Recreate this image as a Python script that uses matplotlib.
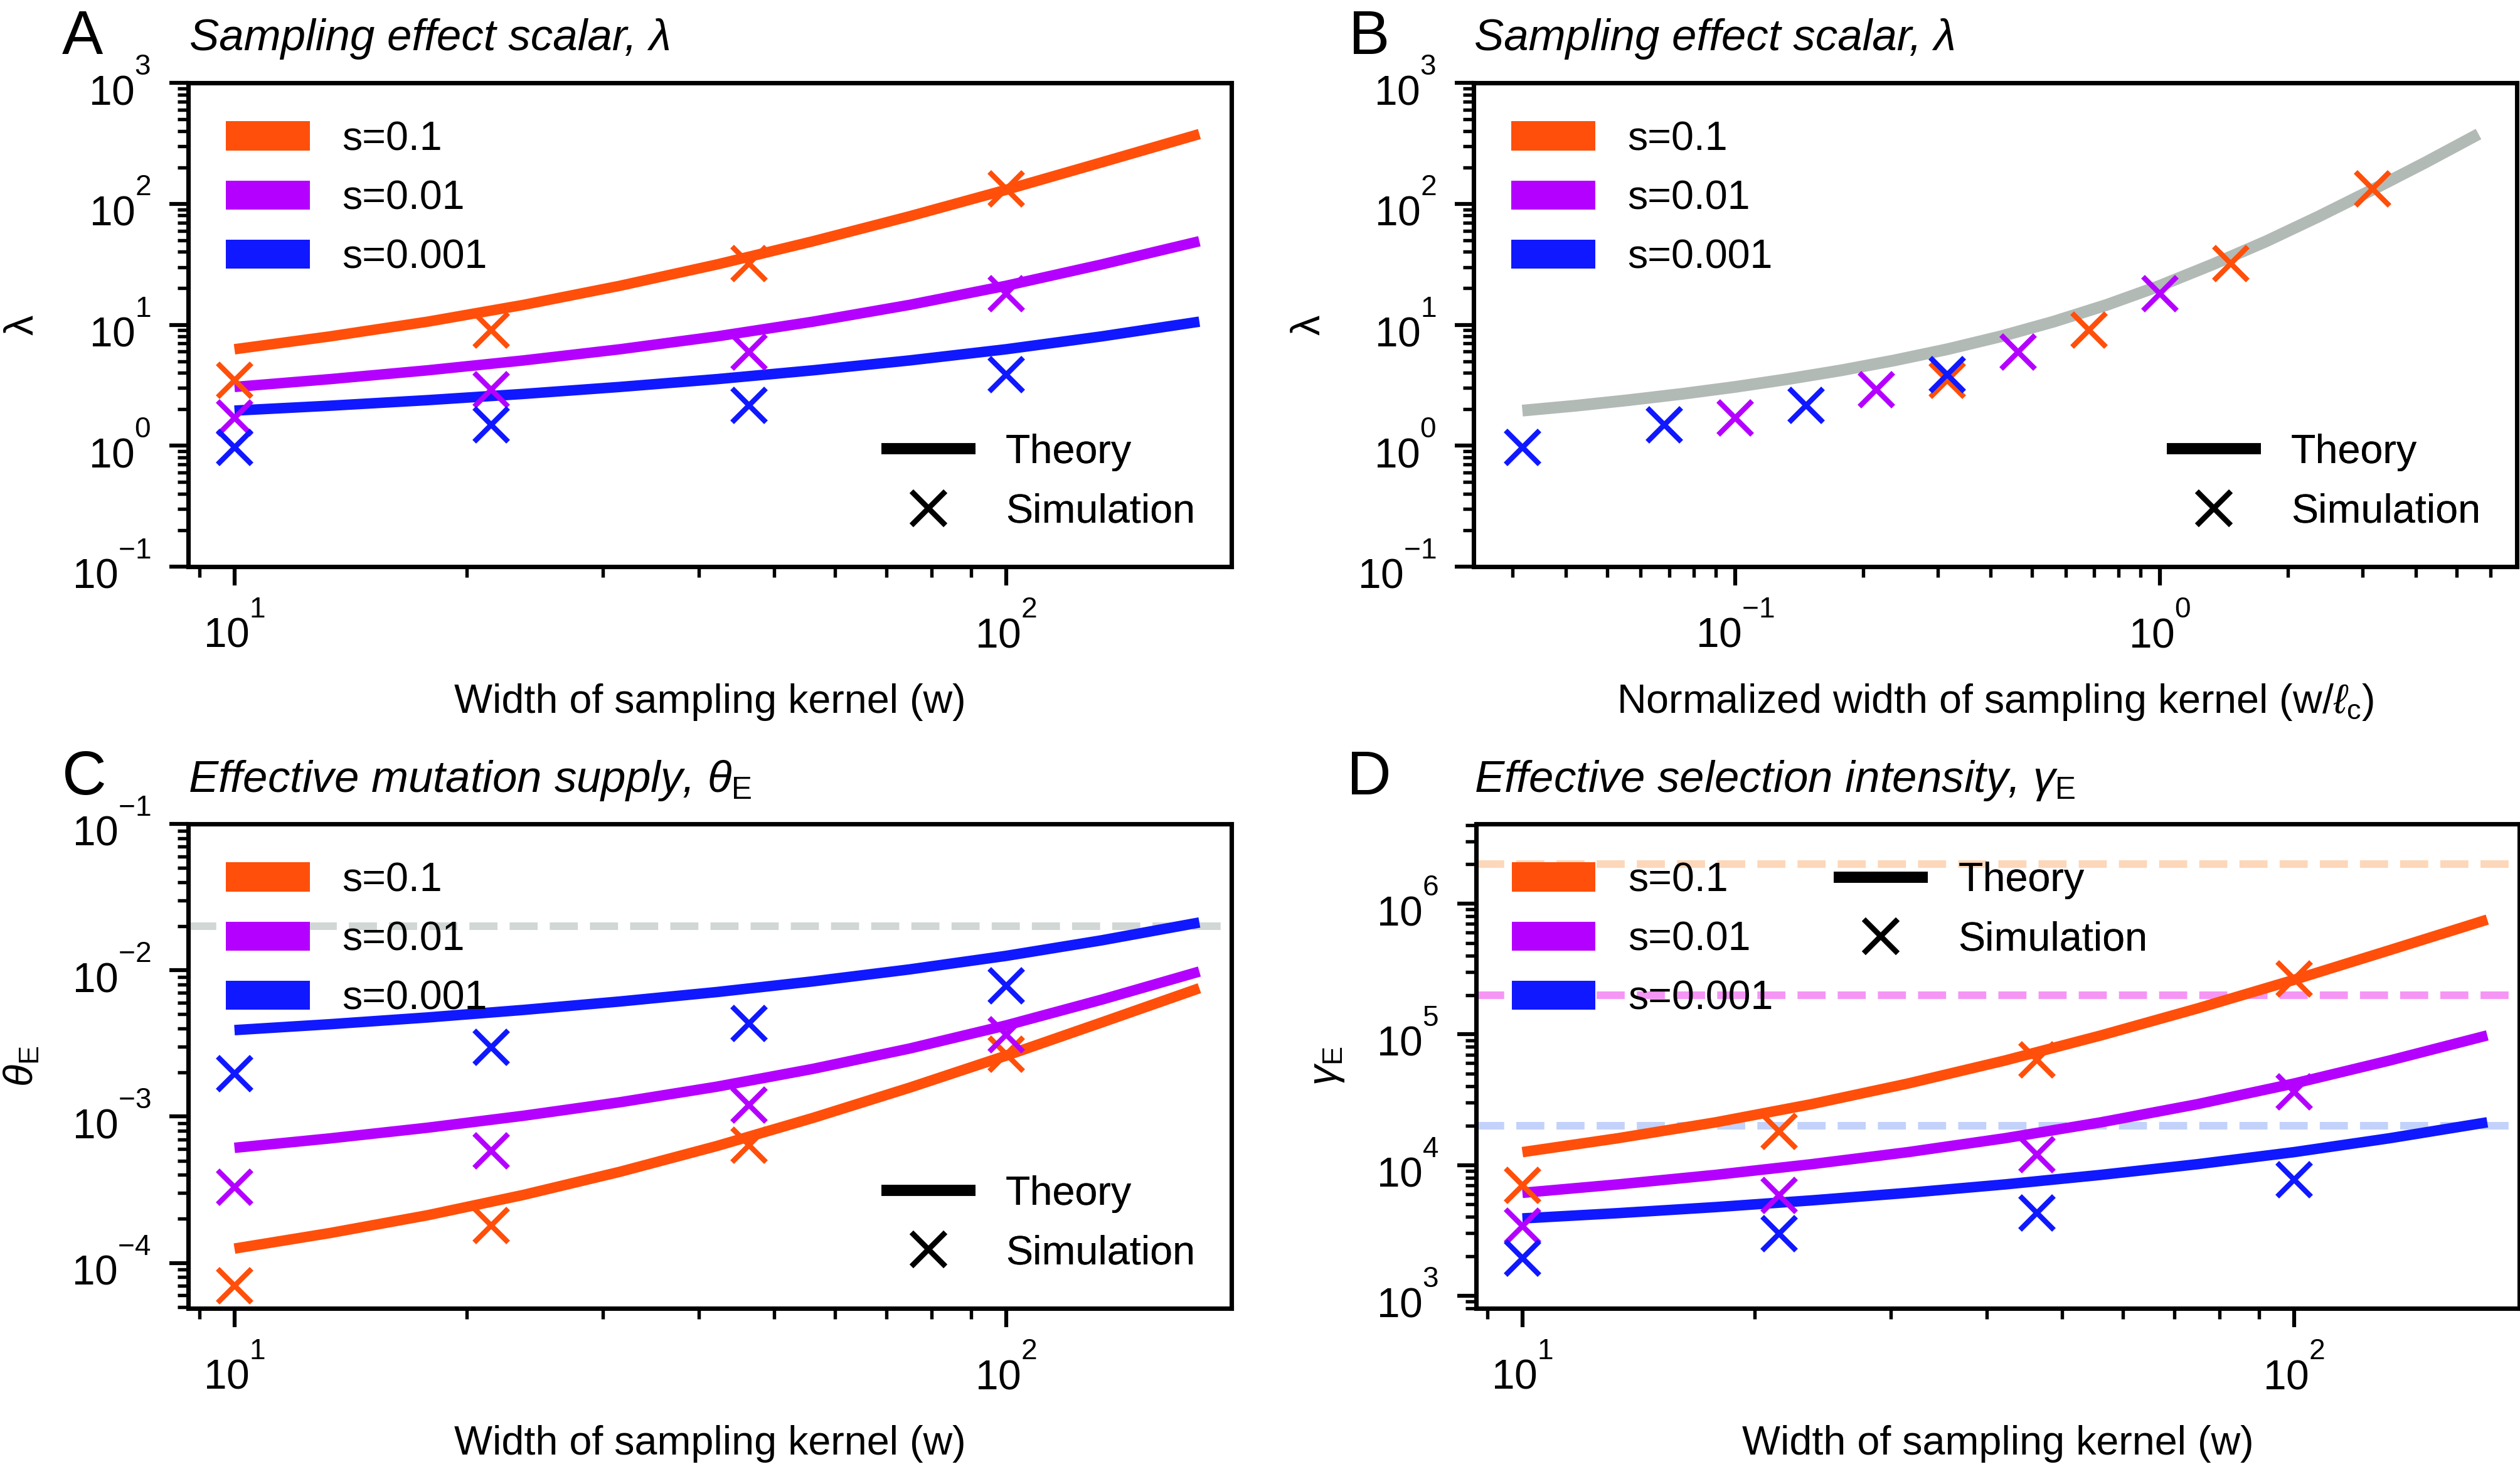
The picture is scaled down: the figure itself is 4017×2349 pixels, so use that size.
import matplotlib
matplotlib.use('Agg')
import matplotlib.pyplot as plt
from matplotlib.patches import Patch
from matplotlib.lines import Line2D
from matplotlib.ticker import NullFormatter

try:
    import matplotlib._mathtext as _mt
    _mt.FontConstantsBase.sup1 = 1.35   # raise superscripts (tick labels 10^n) like the reference
except Exception:
    pass

plt.rcParams['font.family'] = ['Liberation Sans', 'DejaVu Sans']
plt.rcParams['mathtext.fontset'] = 'custom'
plt.rcParams['mathtext.rm'] = 'Liberation Sans'
plt.rcParams['mathtext.it'] = 'Liberation Sans:italic'
plt.rcParams['mathtext.bf'] = 'Liberation Sans:bold'
plt.rcParams['mathtext.sf'] = 'Liberation Sans'

# ---------------- data ----------------
s_labels = ['s=0.1', 's=0.01', 's=0.001']
colors = ['#FF4F0A', '#B400FF', '#1018FF']

# theory curves, panel A (lambda vs w)
w_theory = [10, 13.3, 17.8, 23.7, 31.6, 42.2, 56.2, 75.0, 100, 133, 178]
lam_th_s1 = [6.27, 8.01, 10.6, 14.6, 21.0, 31.5, 49.0, 78.9, 130.5, 220, 377]
lam_th_s2 = [3.06, 3.55, 4.20, 5.07, 6.27, 8.01, 10.6, 14.6, 21.0, 31.5, 49.0]
lam_th_s3 = [1.95, 2.14, 2.38, 2.68, 3.06, 3.55, 4.20, 5.07, 6.27, 8.01, 10.6]

# simulations, panel A
w_sim = [10, 21.5, 46.4, 100]
lam_sim_s1 = [3.49, 9.06, 31.9, 133]
lam_sim_s2 = [1.70, 2.92, 5.98, 18.1]
lam_sim_s3 = [0.97, 1.49, 2.15, 3.86]

# panel B (normalized width)
xn_theory = [0.0316, 0.0422, 0.0562, 0.075, 0.1, 0.133, 0.178, 0.237, 0.316, 0.422,
             0.562, 0.75, 1.0, 1.33, 1.78, 2.37, 3.16, 4.22, 5.62]
lam_theory_B = [1.95, 2.14, 2.38, 2.68, 3.06, 3.55, 4.20, 5.07, 6.27, 8.01,
                10.6, 14.6, 21.0, 31.5, 49.0, 78.9, 130.5, 220, 377]
xn_sim_s1 = [0.316, 0.681, 1.468, 3.162]
xn_sim_s2 = [0.1, 0.215, 0.464, 1.0]
xn_sim_s3 = [0.0316, 0.0681, 0.1468, 0.3162]

# panel C (theta_E)
theta_th_s1 = [1.254e-4, 1.602e-4, 2.12e-4, 2.92e-4, 4.2e-4, 6.3e-4, 9.8e-4, 1.578e-3, 2.61e-3, 4.4e-3, 7.54e-3]
theta_th_s2 = [6.12e-4, 7.1e-4, 8.4e-4, 1.014e-3, 1.254e-3, 1.602e-3, 2.12e-3, 2.92e-3, 4.2e-3, 6.3e-3, 9.8e-3]
theta_th_s3 = [3.9e-3, 4.28e-3, 4.76e-3, 5.36e-3, 6.12e-3, 7.1e-3, 8.4e-3, 1.014e-2, 1.254e-2, 1.602e-2, 2.12e-2]
theta_sim_s1 = [7.0e-5, 1.81e-4, 6.4e-4, 2.66e-3]
theta_sim_s2 = [3.3e-4, 5.84e-4, 1.2e-3, 3.62e-3]
theta_sim_s3 = [1.96e-3, 2.99e-3, 4.35e-3, 7.8e-3]
theta_ref = 0.02

# panel D (gamma_E)
gam_th_s1 = [1.254e4, 1.602e4, 2.12e4, 2.92e4, 4.2e4, 6.3e4, 9.8e4, 1.578e5, 2.61e5, 4.4e5, 7.54e5]
gam_th_s2 = [6.12e3, 7.1e3, 8.4e3, 1.014e4, 1.254e4, 1.602e4, 2.12e4, 2.92e4, 4.2e4, 6.3e4, 9.8e4]
gam_th_s3 = [3.9e3, 4.28e3, 4.76e3, 5.36e3, 6.12e3, 7.1e3, 8.4e3, 1.014e4, 1.254e4, 1.602e4, 2.12e4]
gam_sim_s1 = [6.98e3, 1.81e4, 6.4e4, 2.66e5]
gam_sim_s2 = [3.4e3, 5.84e3, 1.2e4, 3.62e4]
gam_sim_s3 = [1.94e3, 2.98e3, 4.3e3, 7.72e3]
gam_ref = [2e6, 2e5, 2e4]
gam_ref_colors = ['#FDD7B9', '#F596F5', '#C3D2FA']

# ---------------- figure ----------------
W, H = 4017, 2349
DPI = 300
fig = plt.figure(figsize=(W / DPI, H / DPI), dpi=DPI)


def px_axes(left, top, right, bottom):
    return fig.add_axes([left / W, 1 - bottom / H, (right - left) / W, (bottom - top) / H])


FS = 15.5
LW = 4.0
MS = 13
MEW = 2.0


def style(ax, ylab, ylab_x, xlab):
    ax.set_xscale('log')
    ax.set_yscale('log')
    for sp in ax.spines.values():
        sp.set_linewidth(1.7)
    ax.tick_params(which='both', direction='out', top=False, right=False)
    ax.tick_params(which='major', length=7.2, width=1.5, labelsize=15.8)
    ax.tick_params(which='minor', length=4.1, width=1.3)
    ax.tick_params(axis='x', which='major', pad=7)
    ax.tick_params(axis='y', which='major', pad=7)
    ax.xaxis.set_minor_formatter(NullFormatter())
    ax.yaxis.set_minor_formatter(NullFormatter())
    ax.set_ylabel(ylab, fontsize=FS)
    ax.yaxis.label.set_ha('center')
    ax.yaxis.label.set_va('center')
    ax.yaxis.set_label_coords(ylab_x, 0.5)
    ax.set_xlabel(xlab, fontsize=FS)
    ax.xaxis.label.set_va('baseline')
    ax.xaxis.set_label_coords(0.5, -0.302)


def color_legend(ax, anchor):
    handles = [Patch(facecolor=c, edgecolor='none', label=l) for c, l in zip(colors, s_labels)]
    leg = ax.legend(handles=handles, loc='upper left', bbox_to_anchor=anchor, frameon=False,
                    borderpad=0, borderaxespad=0, handlelength=2.07, handleheight=0.73,
                    handletextpad=0.8, labelspacing=0.53, fontsize=FS)
    ax.add_artist(leg)
    return leg


def type_legend(ax, loc, anchor):
    handles = [Line2D([], [], color='k', lw=4.2, solid_capstyle='butt'),
               Line2D([], [], color='k', ls='none', marker='x', ms=MS, mew=MEW)]
    leg = ax.legend(handles, ['Theory', 'Simulation'], loc=loc, bbox_to_anchor=anchor,
                    frameon=False, borderpad=0, borderaxespad=0, handlelength=2.32,
                    handletextpad=0.74, labelspacing=0.53, fontsize=FS)
    ax.add_artist(leg)
    return leg


xw_lim = (10 ** 0.94, 10 ** 2.292)

# ---- Panel A ----
axA = px_axes(300, 132, 1963, 903)
style(axA, 'λ', -0.159, 'Width of sampling kernel (w)')
for th, c in zip([lam_th_s1, lam_th_s2, lam_th_s3], colors):
    axA.plot(w_theory, th, color=c, lw=LW, solid_capstyle='butt', zorder=2)
for sm, c in zip([lam_sim_s1, lam_sim_s2, lam_sim_s3], colors):
    axA.plot(w_sim, sm, ls='none', marker='x', ms=MS, mew=MEW, color=c, zorder=3)
axA.set_xlim(*xw_lim)
axA.set_ylim(1e-1, 1e3)
color_legend(axA, (0.036, 0.922))
type_legend(axA, 'lower right', (0.965, 0.075))

# ---- Panel B ----
axB = px_axes(2349, 132, 4012, 903)
style(axB, 'λ', -0.158, r'Normalized width of sampling kernel (w/$\ell_\mathrm{c}$)')
axB.plot(xn_theory, lam_theory_B, color='#B2BAB6', lw=4.5, solid_capstyle='butt', zorder=2)
for xs, sm, c in zip([xn_sim_s1, xn_sim_s2, xn_sim_s3], [lam_sim_s1, lam_sim_s2, lam_sim_s3], colors):
    axB.plot(xs, sm, ls='none', marker='x', ms=MS, mew=MEW, color=c, zorder=3)
axB.set_xlim(10 ** -1.615, 10 ** 0.84)
axB.set_ylim(1e-1, 1e3)
color_legend(axB, (0.036, 0.922))
type_legend(axB, 'lower right', (0.965, 0.075))

# ---- Panel C ----
axC = px_axes(300, 1313, 1963, 2085)
style(axC, r'$\theta_\mathrm{E}$', -0.159, 'Width of sampling kernel (w)')
axC.axhline(theta_ref, color='#D1D7D4', lw=2.9, ls='--', zorder=1)
for th, c in zip([theta_th_s1, theta_th_s2, theta_th_s3], colors):
    axC.plot(w_theory, th, color=c, lw=LW, solid_capstyle='butt', zorder=2)
for sm, c in zip([theta_sim_s1, theta_sim_s2, theta_sim_s3], colors):
    axC.plot(w_sim, sm, ls='none', marker='x', ms=MS, mew=MEW, color=c, zorder=3)
axC.set_xlim(*xw_lim)
axC.set_ylim(10 ** -4.31, 1e-1)
color_legend(axC, (0.036, 0.922))
type_legend(axC, 'lower right', (0.965, 0.075))

# ---- Panel D ----
axD = px_axes(2353, 1313, 4016, 2085)
style(axD, r'$\gamma_\mathrm{E}$', -0.1425, 'Width of sampling kernel (w)')
for g, c in zip(gam_ref, gam_ref_colors):
    axD.axhline(g, color=c, lw=2.9, ls='--', zorder=1)
for th, c in zip([gam_th_s1, gam_th_s2, gam_th_s3], colors):
    axD.plot(w_theory, th, color=c, lw=LW, solid_capstyle='butt', zorder=2)
for sm, c in zip([gam_sim_s1, gam_sim_s2, gam_sim_s3], colors):
    axD.plot(w_sim, sm, ls='none', marker='x', ms=MS, mew=MEW, color=c, zorder=3)
axD.set_xlim(*xw_lim)
axD.set_ylim(800, 4.07e6)
color_legend(axD, (0.034, 0.922))
type_legend(axD, 'upper left', (0.343, 0.922))

# ---- panel letters and titles ----
def ftext(x, y, s, **kw):
    fig.text(x / W, 1 - y / H, s, va='baseline', ha='left', **kw)

ftext(99, 86, 'A', fontsize=23.5)
ftext(2150, 86, 'B', fontsize=23.5)
ftext(99, 1266, 'C', fontsize=23.5)
ftext(2147, 1266, 'D', fontsize=23.5)
ftext(302, 80, 'Sampling effect scalar, λ', fontsize=17, fontstyle='italic')
ftext(2350, 80, 'Sampling effect scalar, λ', fontsize=17, fontstyle='italic')
ftext(300, 1262, r'Effective mutation supply, $\theta_\mathrm{E}$', fontsize=17, fontstyle='italic')
ftext(2350, 1262, r'Effective selection intensity, $\gamma_\mathrm{E}$', fontsize=17, fontstyle='italic')

fig.savefig('out.png', dpi=DPI)
